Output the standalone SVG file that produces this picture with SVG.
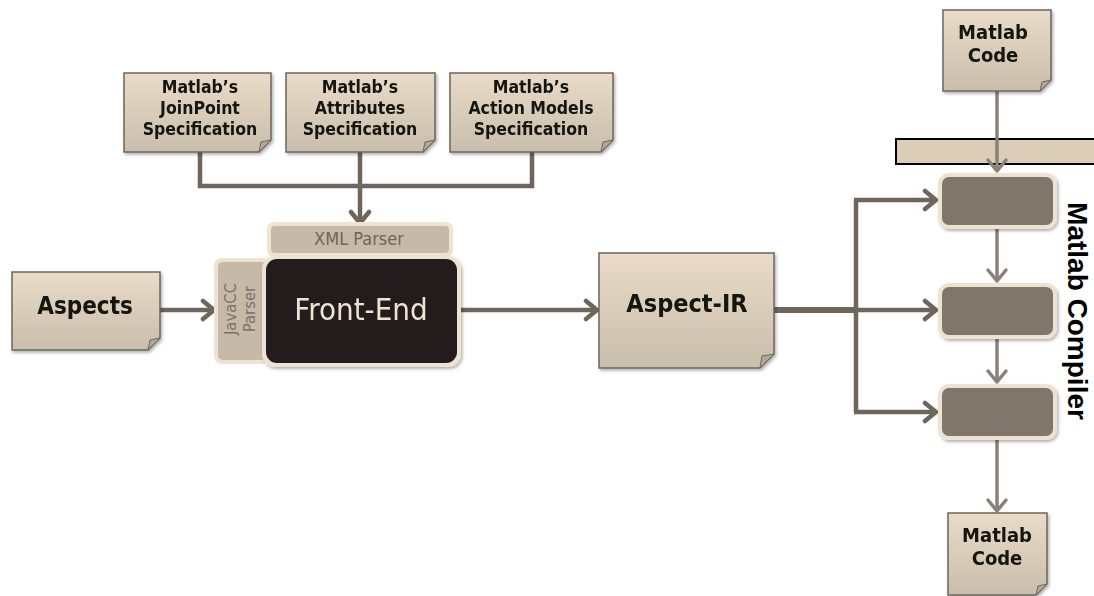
<svg xmlns="http://www.w3.org/2000/svg" width="1094" height="596" viewBox="0 0 1094 596">
<style>
.note{stroke:#6e665c;stroke-width:1.5;fill:url(#g)}
.fold{fill:#b3a795;stroke:#6e665c;stroke-width:1}
.t{font-family:"DejaVu Sans Condensed","DejaVu Sans",sans-serif;font-stretch:condensed;font-weight:bold;fill:#141210;text-anchor:middle}
.r{font-family:"DejaVu Sans Condensed","DejaVu Sans",sans-serif;font-stretch:condensed;text-anchor:middle}
.c{fill:none;stroke:#6e665b;stroke-width:4.5}
.c2{fill:none;stroke:#8a8177;stroke-width:3.5}
.cb{fill:#7f776c;stroke:#eee2d2;stroke-width:4}
</style>
<defs>
<linearGradient id="g" x1="0" y1="0" x2="0" y2="1"><stop offset="0" stop-color="#e9dbc8"/><stop offset="1" stop-color="#c9bdab"/></linearGradient>
<filter id="sh" x="-10%" y="-10%" width="130%" height="130%"><feDropShadow dx="1.5" dy="2" stdDeviation="1.5" flood-color="#000" flood-opacity="0.3"/></filter>
<marker id="a" markerUnits="userSpaceOnUse" viewBox="0 0 24 24" markerWidth="24" markerHeight="24" refX="21" refY="12" orient="auto"><path d="M10,3 L21,12 L10,21" fill="none" stroke="#6e665b" stroke-width="4.5" stroke-linecap="round" stroke-linejoin="round"/></marker>
<marker id="a2" markerUnits="userSpaceOnUse" viewBox="0 0 24 24" markerWidth="24" markerHeight="24" refX="21" refY="12" orient="auto"><path d="M10,3 L21,12 L10,21" fill="none" stroke="#8a8177" stroke-width="3.5" stroke-linecap="round" stroke-linejoin="round"/></marker>
</defs>
<rect width="1094" height="596" fill="#fff"/>

<g id="bar"><rect x="896" y="139" width="210" height="25" fill="#dccdb8" stroke="#000" stroke-width="2"/></g>

<g id="connectors">
<path class="c" d="M200,152 V186 H532 V152"/>
<path class="c" d="M360,152 V223" marker-end="url(#a)"/>
<path class="c" d="M160,310 H214" marker-end="url(#a)"/>
<path class="c" d="M460,310 H597" marker-end="url(#a)"/>
<path class="c" d="M774,310 H856" style="stroke-width:6"/>
<path class="c" d="M856,310 H936" marker-end="url(#a)"/>
<path class="c" d="M856,200 V412"/>
<path class="c" d="M854,200 H936" marker-end="url(#a)"/>
<path class="c" d="M854,412 H936" marker-end="url(#a)"/>
<path class="c2" d="M997,91 V171" marker-end="url(#a2)"/>
<path class="c2" d="M997,228 V281" marker-end="url(#a2)"/>
<path class="c2" d="M997,339 V382" marker-end="url(#a2)"/>
<path class="c2" d="M997,440 V511" marker-end="url(#a2)"/>
</g>

<g id="spec1" filter="url(#sh)">
<path class="note" d="M124,73 H271 V140 L259,152 H124 Z"/>
<path class="fold" d="M271,140 L259,152 L261,142 Z"/>
<text class="t" font-size="17.5"><tspan x="200" y="93">Matlab’s</tspan><tspan x="200" y="114">JoinPoint</tspan><tspan x="200" y="135">Specification</tspan></text>
</g>
<g id="spec2" filter="url(#sh)">
<path class="note" d="M286,73 H435 V140 L423,152 H286 Z"/>
<path class="fold" d="M435,140 L423,152 L425,142 Z"/>
<text class="t" font-size="17.5"><tspan x="360" y="93">Matlab’s</tspan><tspan x="360" y="114">Attributes</tspan><tspan x="360" y="135">Specification</tspan></text>
</g>
<g id="spec3" filter="url(#sh)">
<path class="note" d="M450,73 H613 V140 L601,152 H450 Z"/>
<path class="fold" d="M613,140 L601,152 L603,142 Z"/>
<text class="t" font-size="17.5"><tspan x="531" y="93">Matlab’s</tspan><tspan x="531" y="114">Action Models</tspan><tspan x="531" y="135">Specification</tspan></text>
</g>

<g id="xml">
<rect x="267" y="222" width="186" height="35" rx="7" fill="#eee2d2"/>
<rect x="271" y="226" width="178" height="27" rx="4" fill="#c6b9a7"/>
<text class="r" x="359" y="245" font-size="18" fill="#6e665c">XML Parser</text>
</g>

<g id="javacc">
<rect x="214" y="258" width="56" height="106" rx="8" fill="#eee2d2"/>
<rect x="218" y="262" width="50" height="98" rx="5" fill="#c6b9a7"/>
<text class="r" transform="translate(236,309) rotate(-90)" font-size="16.5" fill="#7a7166"><tspan x="0" y="0">JavaCC</tspan><tspan x="0" y="19">Parser</tspan></text>
</g>

<g id="frontend" filter="url(#sh)">
<rect x="262" y="256" width="199" height="111" rx="13" fill="#eee2d2"/>
<rect x="266" y="259" width="191" height="104" rx="11" fill="#231e1b"/>
<text class="r" x="361" y="320" font-size="31" fill="#eee2d2">Front-End</text>
</g>

<g id="aspects" filter="url(#sh)">
<path class="note" d="M12,272 H160 V338 L148,350 H12 Z"/>
<path class="fold" d="M160,338 L148,350 L150,340 Z"/>
<text class="t" x="85" y="314" font-size="24">Aspects</text>
</g>

<g id="aspectir" filter="url(#sh)">
<path class="note" d="M599,253 H774 V354 L760,368 H599 Z"/>
<path class="fold" d="M774,354 L760,368 L762,356 Z"/>
<text class="t" x="687" y="312" font-size="25">Aspect-IR</text>
</g>

<g id="mcode-in" filter="url(#sh)">
<path class="note" d="M943,10 H1051 V80 L1040,91 H943 Z"/>
<path class="fold" d="M1051,80 L1040,91 L1042,82 Z"/>
<text class="t" font-size="20"><tspan x="993" y="39">Matlab</tspan><tspan x="993" y="62">Code</tspan></text>
</g>

<g id="stage1" filter="url(#sh)"><rect class="cb" x="940" y="175" width="115" height="52" rx="9"/></g>
<g id="stage2" filter="url(#sh)"><rect class="cb" x="940" y="285" width="115" height="52" rx="9"/></g>
<g id="stage3" filter="url(#sh)"><rect class="cb" x="940" y="386" width="115" height="52" rx="9"/></g>

<g id="compiler-label">
<text transform="translate(1068,311) rotate(90)" font-family="'Liberation Sans',Arial,sans-serif" font-weight="bold" font-size="28" fill="#000" text-anchor="middle">Matlab Compiler</text>
</g>

<g id="mcode-out" filter="url(#sh)">
<path class="note" d="M948,513 H1047 V584 L1036,595 H948 Z"/>
<path class="fold" d="M1047,584 L1036,595 L1038,586 Z"/>
<text class="t" font-size="20"><tspan x="997" y="542">Matlab</tspan><tspan x="997" y="565">Code</tspan></text>
</g>
</svg>
